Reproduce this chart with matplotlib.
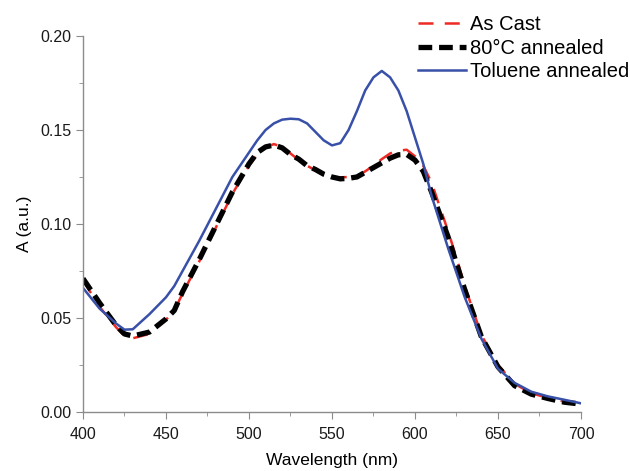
import numpy as np
import matplotlib
matplotlib.use('Agg')
import matplotlib.pyplot as plt
from matplotlib.ticker import MultipleLocator

plt.rcParams['font.family'] = ['Liberation Sans', 'DejaVu Sans']

# wavelength grid (nm)
wl = [400, 410, 420, 425, 430, 440, 450, 455, 460, 470, 480, 490, 500, 505, 510,
      515, 520, 525, 530, 535, 540, 545, 550, 555, 560, 565, 570, 575, 580, 585,
      590, 595, 600, 605, 610, 615, 620, 625, 630, 640, 650, 660, 670, 680, 690, 700]

as_cast = [0.070, 0.056, 0.045, 0.0405, 0.0392, 0.0415, 0.049, 0.054, 0.063, 0.080,
           0.098, 0.116, 0.131, 0.137, 0.1408, 0.1425, 0.141, 0.1375, 0.134, 0.131,
           0.1285, 0.126, 0.125, 0.1248, 0.125, 0.1255, 0.128, 0.131, 0.1345, 0.1375,
           0.139, 0.1395, 0.136, 0.131, 0.122, 0.109, 0.096, 0.082, 0.067, 0.041,
           0.025, 0.015, 0.0100, 0.0075, 0.0055, 0.0040]

annealed_80 = [0.071, 0.058, 0.046, 0.0415, 0.0404, 0.0425, 0.0495, 0.054, 0.064, 0.081,
               0.099, 0.117, 0.132, 0.138, 0.141, 0.142, 0.1405, 0.137, 0.1345, 0.131,
               0.129, 0.1265, 0.125, 0.124, 0.1243, 0.125, 0.1275, 0.130, 0.1325, 0.135,
               0.1368, 0.137, 0.134, 0.128, 0.117, 0.105, 0.093, 0.079, 0.065, 0.040,
               0.024, 0.014, 0.0095, 0.0072, 0.0052, 0.0042]

toluene = [0.066, 0.055, 0.047, 0.0438, 0.0440, 0.052, 0.061, 0.067, 0.075, 0.091,
           0.108, 0.125, 0.138, 0.1445, 0.150, 0.1535, 0.1555, 0.156, 0.1557, 0.1535,
           0.149, 0.1445, 0.1418, 0.143, 0.150, 0.160, 0.171, 0.178, 0.1814, 0.178,
           0.171, 0.160, 0.146, 0.132, 0.115, 0.101, 0.087, 0.074, 0.061, 0.039,
           0.023, 0.0155, 0.0108, 0.0083, 0.0065, 0.0046]

fig = plt.figure(figsize=(6.3, 4.71), dpi=100)
ax = fig.add_axes([0.1317, 0.1253, 0.7905, 0.7983])

ax.plot(wl, as_cast, color='#ee2a24', lw=1.8, dashes=(6, 4.5), label='As Cast')
ax.plot(wl, annealed_80, color='black', lw=3.8, dashes=(2.6, 1.3), label='80°C annealed')
ax.plot(wl, toluene, color='#3850a8', lw=1.8, label='Toluene annealed')

ax.set_xlim(400, 700)
ax.set_ylim(0, 0.20)
ax.xaxis.set_major_locator(MultipleLocator(50))
ax.xaxis.set_minor_locator(MultipleLocator(25))
ax.yaxis.set_major_locator(MultipleLocator(0.05))
ax.yaxis.set_minor_locator(MultipleLocator(0.025))
ax.yaxis.set_major_formatter(matplotlib.ticker.FormatStrFormatter('%.2f'))

for s in ['top', 'right']:
    ax.spines[s].set_visible(False)
for s in ['left', 'bottom']:
    ax.spines[s].set_color('#8c8c8c')
    ax.spines[s].set_linewidth(1.0)
ax.tick_params(which='both', direction='out', color='#8c8c8c', labelsize=11.5, labelcolor='#1a1a1a')
ax.tick_params(axis='x', which='major', length=5, pad=6)
ax.tick_params(axis='y', which='major', length=5, pad=3)
ax.tick_params(which='minor', length=3)

ax.set_xlabel('Wavelength (nm)', fontsize=12.5, labelpad=8)
ax.set_ylabel('A (a.u.)', fontsize=12.5, labelpad=6)

fig.legend(loc='upper right', bbox_to_anchor=(1.027, 1.006), frameon=False, fontsize=14.5,
           handlelength=2.35, handletextpad=0.2, labelspacing=0.22)

fig.savefig('out.png', dpi=100)
